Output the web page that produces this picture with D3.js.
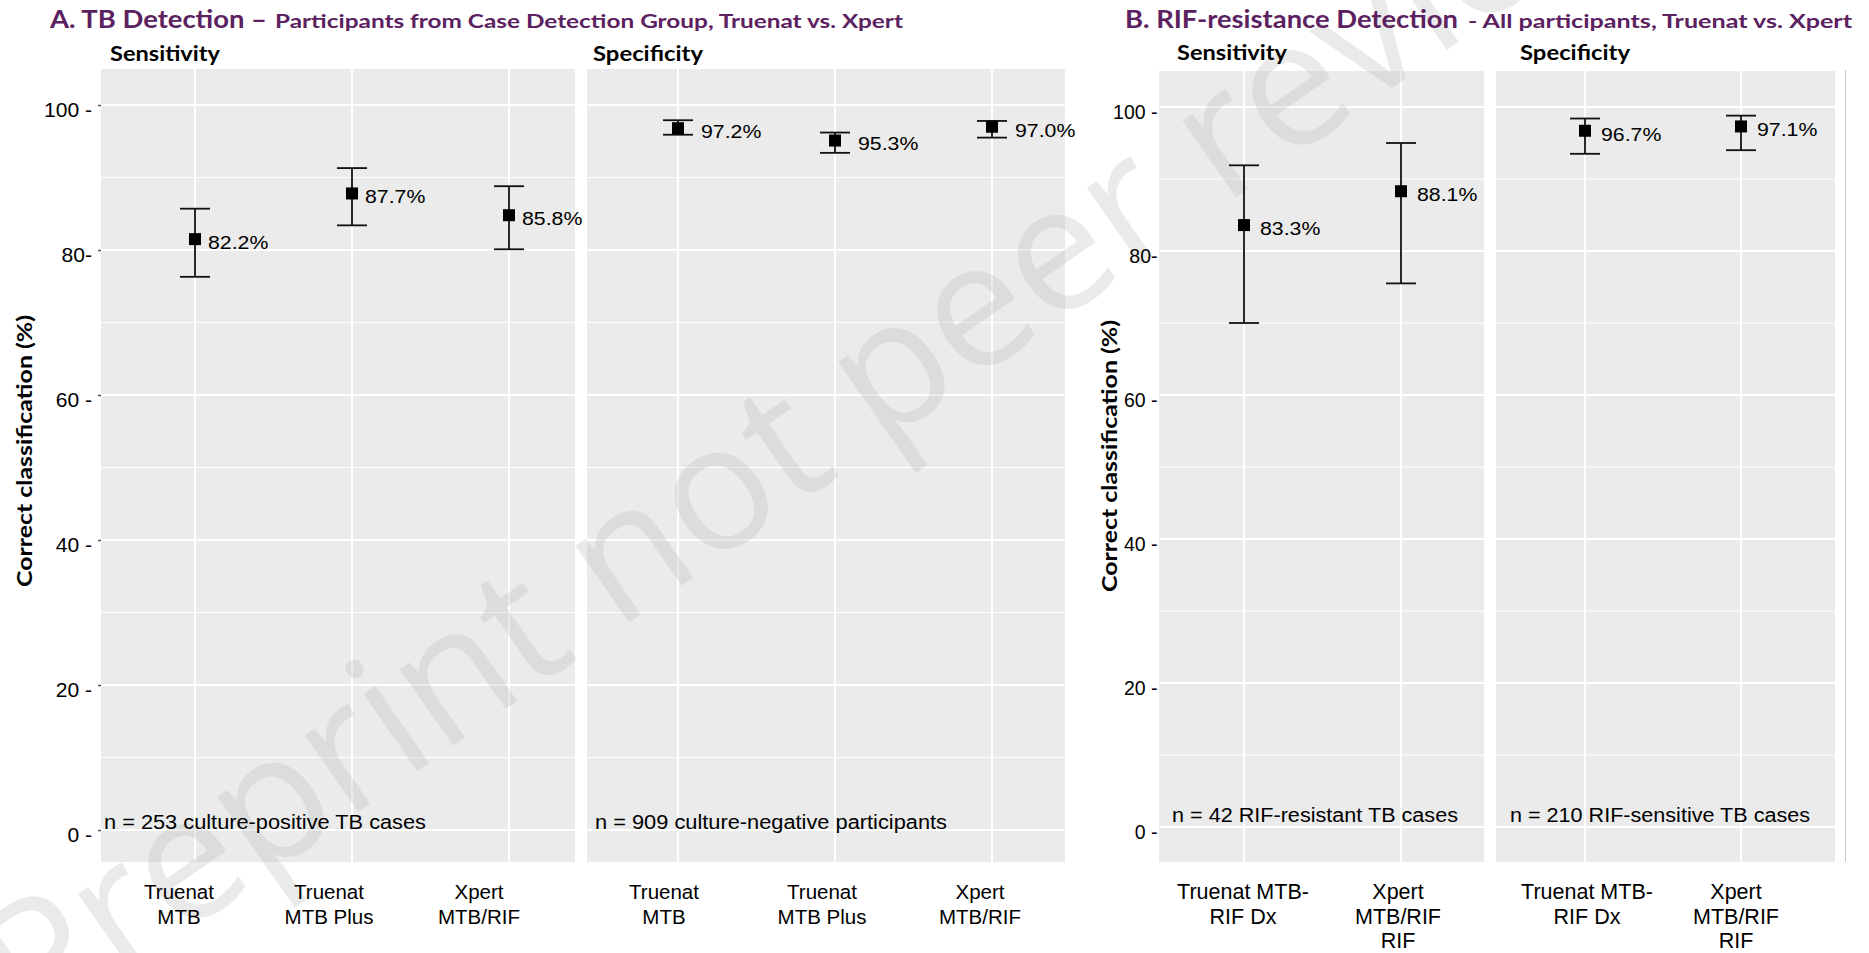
<!DOCTYPE html>
<html><head><meta charset="utf-8">
<script src="https://cdn.jsdelivr.net/npm/d3@7"></script>
<style>body{margin:0;background:#fff} svg{display:block}</style>
</head><body>
<svg id="c" width="1869" height="953"></svg>
<script>
// ---------------- data ----------------
const tbCategories = ["Truenat MTB", "Truenat MTB Plus", "Xpert MTB/RIF"];
const tbCategoryLines = [["Truenat", "MTB"], ["Truenat", "MTB Plus"], ["Xpert", "MTB/RIF"]];
const tbSensEstimate = [81.5, 87.8, 84.8];
const tbSensLower = [76.3, 83.4, 80.1];
const tbSensUpper = [85.7, 91.3, 88.8];
const tbSensLabels = ["82.2%", "87.7%", "85.8%"];
const tbSpecEstimate = [96.8, 95.1, 97.0];
const tbSpecLower = [95.9, 93.4, 95.5];
const tbSpecUpper = [97.9, 96.2, 97.8];
const tbSpecLabels = ["97.2%", "95.3%", "97.0%"];

const rifCategories = ["Truenat MTB-RIF Dx", "Xpert MTB/RIF RIF"];
const rifCategoryLines = [["Truenat MTB-", "RIF Dx"], ["Xpert", "MTB/RIF", "RIF"]];
const rifSensEstimate = [83.6, 88.3];
const rifSensLower = [70.0, 75.5];
const rifSensUpper = [91.9, 95.0];
const rifSensLabels = ["83.3%", "88.1%"];
const rifSpecEstimate = [96.7, 97.3];
const rifSpecLower = [93.5, 94.0];
const rifSpecUpper = [98.4, 98.8];
const rifSpecLabels = ["96.7%", "97.1%"];

const yTicks = [0, 20, 40, 60, 80, 100];
const yTickLabels = ["0 -", "20 -", "40 -", "60 -", "80-", "100 -"];
const yMinorTicks = [10, 30, 50, 70, 90];
const nTexts = ["n = 253 culture-positive TB cases", "n = 909 culture-negative participants",
                "n = 42 RIF-resistant TB cases", "n = 210 RIF-sensitive TB cases"];
const stripTitles = ["Sensitivity", "Specificity"];
const titleA = ["A. TB Detection \u2013", "Participants from Case Detection Group, Truenat vs. Xpert"];
const titleB = ["B. RIF-resistance Detection", "- All participants, Truenat vs. Xpert"];
const yAxisTitle = "Correct classification (%)";
const watermarkWords = ["Preprint", "not peer reviewed"];

// ---------------- layout ----------------
const svg = d3.select("#c");
const PURPLE = "#5b2160";
const SANS = "'Liberation Sans', Arial, sans-serif";
const BOLD = "Lato, 'Open Sans', sans-serif";

function stretch(sel, k) {
  sel.each(function () {
    const L = this.getComputedTextLength();
    d3.select(this).attr("textLength", L * k).attr("lengthAdjust", "spacingAndGlyphs");
  });
}

const yA = d3.scaleLinear().domain([0, 100]).range([830, 105]);
const yB = d3.scaleLinear().domain([0, 100]).range([827, 107]);

const panels = [
  {x0: 101, x1: 575, y0: 69, y1: 862, y: yA, xr: [195, 509], lr: [179, 479], lsize: 20.5,
   cats: tbCategories, lines: tbCategoryLines,
   est: tbSensEstimate, lo: tbSensLower, hi: tbSensUpper, labels: tbSensLabels, labelDx: 13,
   strip: stripTitles[0], stripX: 110, stripY: 61, n: nTexts[0], nX: 104, nY: 829, nLen: 322},
  {x0: 587, x1: 1065, y0: 69, y1: 862, y: yA, xr: [678, 992], lr: [664, 980], lsize: 20.5,
   cats: tbCategories, lines: tbCategoryLines,
   est: tbSpecEstimate, lo: tbSpecLower, hi: tbSpecUpper, labels: tbSpecLabels, labelDx: 23,
   strip: stripTitles[1], stripX: 593, stripY: 61, n: nTexts[1], nX: 595, nY: 829, nLen: 352},
  {x0: 1159, x1: 1484, y0: 71, y1: 862, y: yB, xr: [1244, 1401], lr: [1243, 1398], lsize: 21.5,
   cats: rifCategories, lines: rifCategoryLines,
   est: rifSensEstimate, lo: rifSensLower, hi: rifSensUpper, labels: rifSensLabels, labelDx: 16,
   strip: stripTitles[0], stripX: 1177, stripY: 60, n: nTexts[2], nX: 1172, nY: 822, nLen: 286},
  {x0: 1496, x1: 1835, y0: 71, y1: 862, y: yB, xr: [1585, 1741], lr: [1587, 1736], lsize: 21.5,
   cats: rifCategories, lines: rifCategoryLines,
   est: rifSpecEstimate, lo: rifSpecLower, hi: rifSpecUpper, labels: rifSpecLabels, labelDx: 16,
   strip: stripTitles[1], stripX: 1520, stripY: 60, n: nTexts[3], nX: 1510, nY: 822, nLen: 300}
];
panels.forEach(p => {
  p.x = d3.scalePoint().domain(p.cats).range(p.xr);
  p.xl = d3.scalePoint().domain(p.cats).range(p.lr);
});

// panel backgrounds + grid
const bg = svg.append("g");
panels.forEach(p => {
  const g = bg.append("g");
  g.append("rect").attr("x", p.x0).attr("y", p.y0).attr("width", p.x1 - p.x0).attr("height", p.y1 - p.y0)
    .attr("fill", "#ebebeb");
  g.selectAll("line.mn").data(yMinorTicks).join("line").attr("class", "mn")
    .attr("x1", p.x0).attr("x2", p.x1).attr("y1", d => p.y(d)).attr("y2", d => p.y(d))
    .attr("stroke", "#fff").attr("stroke-width", 1.2);
  g.selectAll("line.mj").data(yTicks).join("line").attr("class", "mj")
    .attr("x1", p.x0).attr("x2", p.x1).attr("y1", d => p.y(d)).attr("y2", d => p.y(d))
    .attr("stroke", "#fff").attr("stroke-width", 2);
  g.selectAll("line.vg").data(p.cats).join("line").attr("class", "vg")
    .attr("x1", d => p.x(d)).attr("x2", d => p.x(d)).attr("y1", p.y0).attr("y2", p.y1)
    .attr("stroke", "#fff").attr("stroke-width", 2);
});
// thin border at right edge
svg.append("line").attr("x1", 1845.5).attr("x2", 1845.5).attr("y1", 70).attr("y2", 862)
  .attr("stroke", "#c9c9c9").attr("stroke-width", 1);

// watermark: both parts meet at the start of "not"
const wmg = svg.append("g").attr("transform", "translate(617,631) rotate(-35)")
  .attr("font-family", "'Open Sans', sans-serif").attr("font-size", 175)
  .attr("fill", "#bdbdbd").attr("opacity", 0.3);
wmg.append("text").attr("x", 0).attr("text-anchor", "end").attr("dx", -45).text(watermarkWords[0]);
wmg.append("text").attr("x", 0).attr("text-anchor", "start").text(watermarkWords[1]);

// marks
panels.forEach(p => {
  const g = svg.append("g");
  const rows = p.cats.map((c, i) => ({c, est: p.est[i], lo: p.lo[i], hi: p.hi[i], label: p.labels[i]}));
  g.selectAll("line.eb").data(rows).join("line").attr("class", "eb")
    .attr("x1", d => p.x(d.c)).attr("x2", d => p.x(d.c)).attr("y1", d => p.y(d.lo)).attr("y2", d => p.y(d.hi))
    .attr("stroke", "#111").attr("stroke-width", 1.8);
  ["lo", "hi"].forEach(k => {
    g.selectAll("line.cap" + k).data(rows).join("line").attr("class", "cap" + k)
      .attr("x1", d => p.x(d.c) - 15).attr("x2", d => p.x(d.c) + 15)
      .attr("y1", d => p.y(d[k])).attr("y2", d => p.y(d[k]))
      .attr("stroke", "#111").attr("stroke-width", 1.8);
  });
  g.selectAll("rect.pt").data(rows).join("rect").attr("class", "pt")
    .attr("x", d => p.x(d.c) - 6).attr("y", d => p.y(d.est) - 6).attr("width", 12).attr("height", 12)
    .attr("fill", "#000");
  const lb = g.selectAll("text.lb").data(rows).join("text").attr("class", "lb")
    .attr("x", d => p.x(d.c) + p.labelDx).attr("y", d => p.y(d.est) + 3.3).attr("dy", "0.35em")
    .attr("font-family", SANS).attr("font-size", 19).attr("fill", "#000").text(d => d.label);
  stretch(lb, 1.12);

  // n text
  g.append("text").attr("x", p.nX).attr("y", p.nY).attr("font-family", SANS).attr("font-size", 20)
    .attr("textLength", p.nLen).attr("lengthAdjust", "spacingAndGlyphs").attr("fill", "#000").text(p.n);

  // strip title
  g.append("text").attr("x", p.stripX).attr("y", p.stripY).attr("font-family", BOLD).attr("font-weight", 700)
    .attr("font-size", 21).attr("textLength", 110).attr("lengthAdjust", "spacingAndGlyphs")
    .attr("fill", "#000").text(p.strip);

  // x axis labels (one text per line)
  p.cats.forEach((c, i) => {
    p.lines[i].forEach((line, j) => {
      g.append("text").attr("x", p.xl(c)).attr("y", 899 + j * 24.5).attr("text-anchor", "middle")
        .attr("font-family", SANS).attr("font-size", p.lsize).attr("fill", "#000").text(line);
    });
  });
});

// y axes
const axA = svg.append("g").attr("transform", "translate(101,0)")
  .call(d3.axisLeft(yA).tickValues(yTicks).tickFormat((d, i) => yTickLabels[i]).tickSize(3).tickPadding(6));
axA.select(".domain").remove();
axA.selectAll(".tick line").attr("stroke", "#555").attr("stroke-width", 1.5);
axA.selectAll(".tick text").attr("font-family", SANS).attr("font-size", 19.5).attr("fill", "#000")
  .attr("transform", "translate(0,5)");
stretch(axA.selectAll(".tick text"), 1.08);

const axB = svg.append("g").attr("transform", "translate(1159,0)")
  .call(d3.axisLeft(yB).tickValues(yTicks).tickFormat((d, i) => yTickLabels[i]).tickSize(0).tickPadding(1.5));
axB.select(".domain").remove();
axB.selectAll(".tick text").attr("font-family", SANS).attr("font-size", 19.5).attr("fill", "#000")
  .attr("transform", "translate(0,5)");

// y axis titles
[[25, 451], [1110, 456]].forEach(([cx, cy]) => {
  svg.append("text").attr("transform", `translate(${cx + 7},${cy}) rotate(-90)`).attr("text-anchor", "middle")
    .attr("font-family", BOLD).attr("font-weight", 700).attr("font-size", 20)
    .attr("textLength", 272).attr("lengthAdjust", "spacingAndGlyphs").attr("fill", "#000").text(yAxisTitle);
});

// titles
function title(parts, x0, len0, x1, len1, s0, s1) {
  svg.append("text").attr("x", x0).attr("y", 27.5).attr("font-family", BOLD).attr("font-weight", 700)
    .attr("font-size", s0).attr("fill", PURPLE).attr("textLength", len0).attr("lengthAdjust", "spacingAndGlyphs")
    .text(parts[0]);
  svg.append("text").attr("x", x1).attr("y", 27.5).attr("font-family", BOLD).attr("font-weight", 700)
    .attr("font-size", s1).attr("fill", PURPLE).attr("textLength", len1).attr("lengthAdjust", "spacingAndGlyphs")
    .text(parts[1]);
}
title(titleA, 50, 217, 275, 628, 24, 19.5);
title(titleB, 1125, 333, 1468, 384, 24.5, 19.5);
</script>
</body></html>
